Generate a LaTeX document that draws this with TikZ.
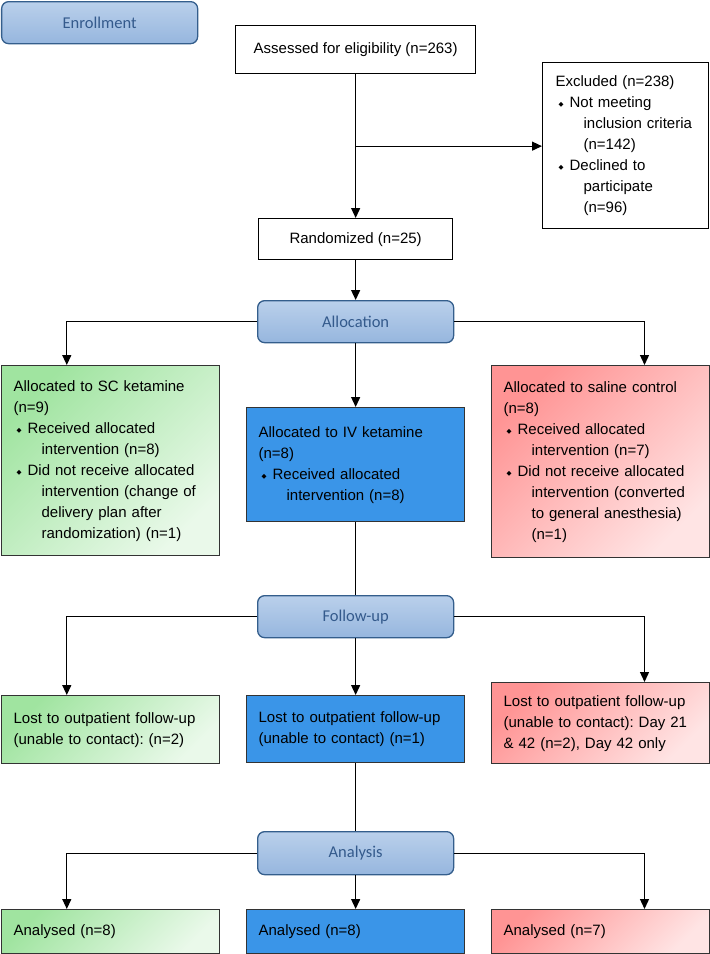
\documentclass[tikz,border=0pt]{standalone}
\usepackage{fontspec}
\setmainfont{Liberation Sans}
\newfontfamily\hdrfont{Carlito}
\newfontfamily\symfont{DejaVu Sans}
\usetikzlibrary{arrows.meta,calc,positioning}

\definecolor{hdrtop}{RGB}{186,208,235}
\definecolor{hdrbot}{RGB}{150,182,222}
\definecolor{hdrline}{RGB}{52,94,140}
\definecolor{hdrtext}{RGB}{52,90,140}
\definecolor{grnA}{RGB}{160,228,160}
\definecolor{grnB}{RGB}{234,249,234}
\definecolor{bluefill}{RGB}{58,149,232}
\definecolor{redA}{RGB}{255,148,148}
\definecolor{redB}{RGB}{255,228,228}

\newcommand{\bul}{\makebox[14pt][l]{\hspace{3pt}\raisebox{1pt}{\symfont\fontsize{6.5}{6.5}\selectfont ◆}}}
\newcommand{\ind}{\hspace*{28pt}}

\tikzset{
  hdr/.style={draw=hdrline, line width=1.3pt, rounded corners=7pt, top color=hdrtop, bottom color=hdrbot,
    minimum width=196pt, minimum height=42pt, font=\hdrfont\fontsize{16.5}{19}\selectfont, text=hdrtext, anchor=north west},
  plain/.style={draw=black, line width=1.3pt, fill=white, font=\fontsize{15}{21}\selectfont\frenchspacing, anchor=north west},
  armbox/.style={draw=black!80, line width=1.3pt, font=\fontsize{15}{21}\selectfont\frenchspacing, anchor=north west,
    minimum width=218pt, text width=194pt, inner xsep=12pt, inner ysep=0pt, align=left},
  sc/.style={armbox, top color=grnA, bottom color=grnB, shading angle=45},
  iv/.style={armbox, fill=bluefill},
  sal/.style={armbox, top color=redA, bottom color=redB, shading angle=45},
  arr/.style={line width=1.3pt, -{Triangle[length=10pt,width=9pt]}},
  lnk/.style={line width=1.3pt},
}

\begin{document}
\begin{tikzpicture}[x=1pt, y=-1pt]
  \useasboundingbox (0,0) rectangle (710,954);

  %%%%% ENROLLMENT %%%%%
  \node[hdr] (enrol) at (1,1) {Enrollment};
  \node[plain, minimum width=240pt, minimum height=48pt] (assess) at (235,25) {Assessed for eligibility (n=263)};
  \node[plain, minimum width=166pt, minimum height=166pt, text width=140pt, inner xsep=13pt, align=left] (excl) at (542,62)
    {Excluded (n=238)\\\bul Not meeting\\\ind inclusion criteria\\\ind (n=142)\\\bul Declined to\\\ind participate\\\ind (n=96)};
  \node[plain, minimum width=194pt, minimum height=41pt] (rand) at (258,218) {Randomized (n=25)};
  \coordinate (split) at ($(assess.south)!0.5!(rand.north)$);

  %%%%% ALLOCATION %%%%%
  \node[hdr] (alloc) at (257,300) {Allocation};
  \node[sc, minimum height=190pt] (scA) at (1,365)
    {Allocated to SC ketamine\\(n=9)\\\bul Received allocated\\\ind intervention (n=8)\\\bul Did not receive allocated\\\ind intervention (change of\\\ind delivery plan after\\\ind randomization) (n=1)};
  \node[iv, minimum height=114pt] (ivA) at (246,407)
    {Allocated to IV ketamine\\(n=8)\\\bul Received allocated\\\ind intervention (n=8)};
  \node[sal, minimum height=192pt] (salA) at (491,365)
    {Allocated to saline control\\(n=8)\\\bul Received allocated\\\ind intervention (n=7)\\\bul Did not receive allocated\\\ind intervention (converted\\\ind to general anesthesia)\\\ind (n=1)};

  %%%%% FOLLOW-UP %%%%%
  \node[hdr] (fu) at (257,595) {Follow-up};
  \node[sc, minimum height=68pt] (scF) at (1,695) {Lost to outpatient follow-up\\(unable to contact): (n=2)};
  \node[iv, minimum height=67pt] (ivF) at (246,695) {Lost to outpatient follow-up\\(unable to contact) (n=1)};
  \node[sal, minimum height=81pt] (salF) at (491,682) {Lost to outpatient follow-up\\(unable to contact): Day 21\\\& 42 (n=2), Day 42 only};

  %%%%% ANALYSIS %%%%%
  \node[hdr, minimum height=43pt] (ana) at (257,831) {Analysis};
  \node[sc, minimum height=44pt] (scN) at (1,909) {Analysed (n=8)};
  \node[iv, minimum height=44pt] (ivN) at (246,909) {Analysed (n=8)};
  \node[sal, minimum height=44pt] (salN) at (491,909) {Analysed (n=7)};

  %%%%% CONNECTORS %%%%%
  \draw[arr] (assess.south) -- (rand.north);
  \draw[arr] (split) -- (split -| excl.west);
  \draw[arr] (rand.south) -- (alloc.north);
  \draw[arr] (alloc.west) -| ($(scA.north west)!0.3!(scA.north east)$);
  \draw[arr] (alloc.south) -- (ivA.north);
  \draw[arr] (alloc.east) -| ($(salA.north west)!0.7!(salA.north east)$);
  \draw[lnk] (ivA.south) -- (ivA.south |- fu.north);
  \draw[arr] (fu.west) -| ($(scF.north west)!0.3!(scF.north east)$);
  \draw[arr] (fu.south) -- (ivF.north);
  \draw[arr] (fu.east) -| ($(salF.north west)!0.7!(salF.north east)$);
  \draw[lnk] (ivF.south) -- (ivF.south |- ana.north);
  \draw[arr] (ana.west) -| ($(scN.north west)!0.3!(scN.north east)$);
  \draw[arr] (ana.south) -- (ivN.north);
  \draw[arr] (ana.east) -| ($(salN.north west)!0.7!(salN.north east)$);
\end{tikzpicture}
\end{document}
